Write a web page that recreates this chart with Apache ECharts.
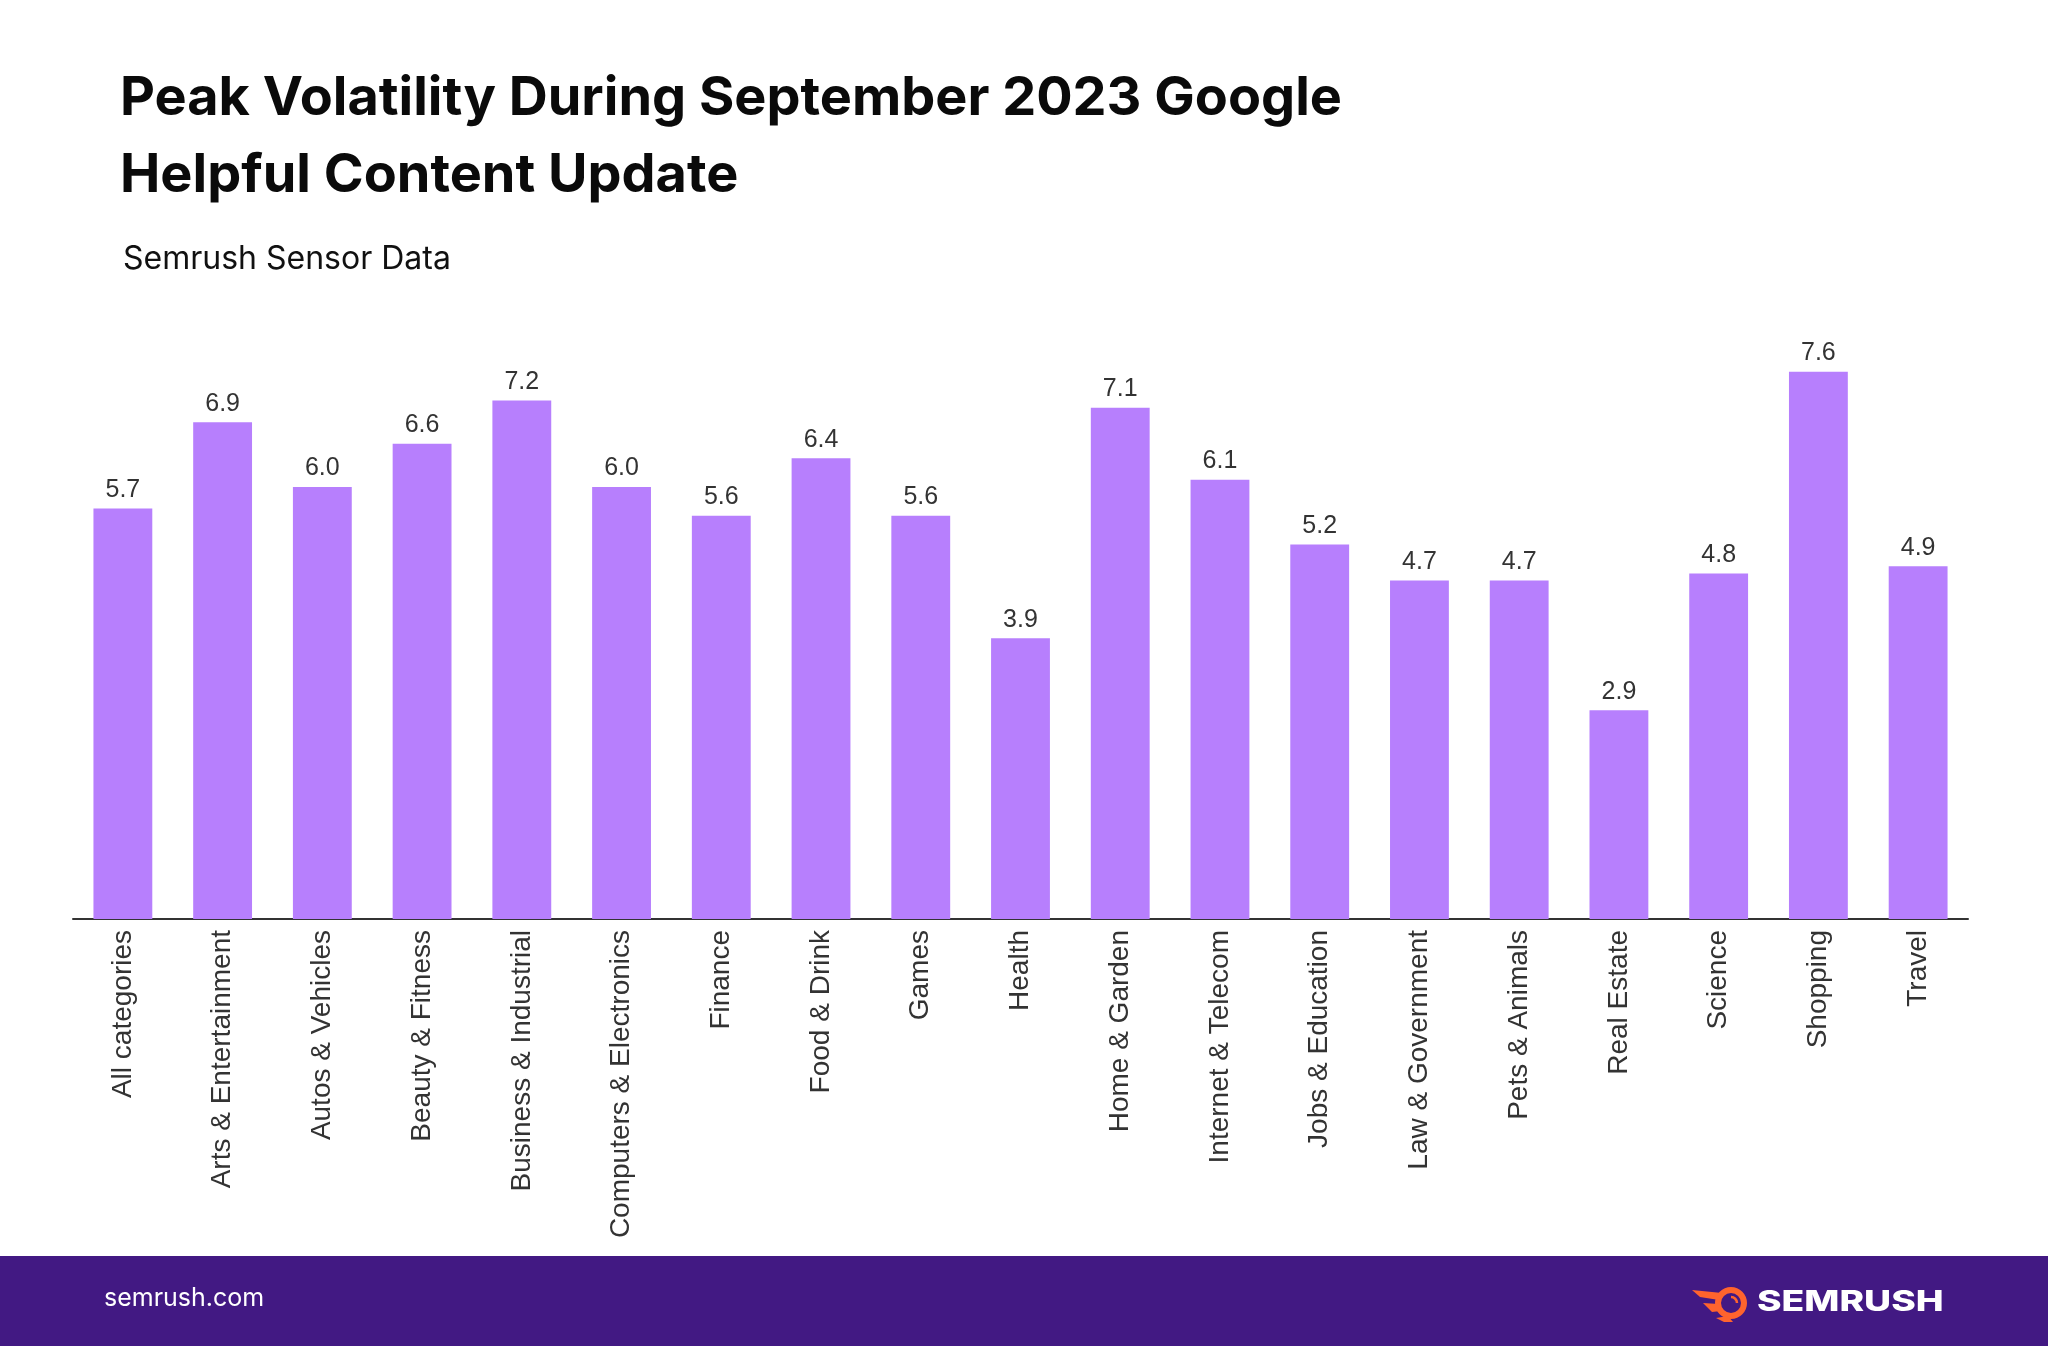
<!DOCTYPE html>
<html>
<head>
<meta charset="utf-8">
<script src="https://cdn.jsdelivr.net/npm/echarts@6/dist/echarts.min.js"></script>
<style>
html,body{margin:0;padding:0;background:#fff;}
#chart{width:2048px;height:1346px;}
</style>
</head>
<body>
<div id="chart"></div>
<script>
const categories = ["All categories","Arts & Entertainment","Autos & Vehicles","Beauty & Fitness","Business & Industrial","Computers & Electronics","Finance","Food & Drink","Games","Health","Home & Garden","Internet & Telecom","Jobs & Education","Law & Government","Pets & Animals","Real Estate","Science","Shopping","Travel"];
const volatility = [5.7,6.9,6.0,6.6,7.2,6.0,5.6,6.4,5.6,3.9,7.1,6.1,5.2,4.7,4.7,2.9,4.8,7.6,4.9];
const titleText = "Peak Volatility During September 2023 Google\nHelpful Content Update";
const subtitleText = "Semrush Sensor Data";
const footerLeft = "semrush.com";
const footerBrand = "SEMRUSH";

const chart = echarts.init(document.getElementById('chart'), null, {renderer:'canvas'});
chart.setOption({
  backgroundColor:'#ffffff',
  animation:false,
  title:[{
    text:titleText,
    left:115, top:55,
    textStyle:{fontFamily:'Inter', fontWeight:700, fontSize:54, lineHeight:77, color:'#0a0a0a'}
  },{
    text:subtitleText,
    left:118, top:238,
    textStyle:{fontFamily:'Inter', fontWeight:400, fontSize:32, color:'#111111'}
  }],
  grid:{left:73, right:80, top:199, bottom:427, containLabel:false},
  xAxis:{
    type:'category', data:categories,
    axisLine:{show:true, lineStyle:{color:'#333333', width:2}},
    axisTick:{show:false},
    axisLabel:{rotate:90, interval:0, margin:11, fontFamily:'Liberation Sans', fontSize:28, color:'#333333'}
  },
  yAxis:{type:'value', min:0, max:10, show:false, splitLine:{show:false}},
  series:[{
    type:'bar', data:volatility, barWidth:'59%',
    itemStyle:{color:'#B77FFD'},
    label:{show:true, position:'top', distance:6, fontFamily:'Liberation Sans', fontSize:25, color:'#333333',
      formatter:p=>p.value.toFixed(1)}
  }],
  graphic:[
    {type:'rect', shape:{x:0,y:1256,width:2048,height:90}, style:{fill:'#421983'}},
    {type:'text', left:104, top:1286, style:{text:footerLeft, fill:'#ffffff', font:'400 25px Inter'}},
    {type:'text', x:1757, y:1289, scaleX:1.33, originX:0, style:{text:footerBrand, fill:'#ffffff', font:'800 28px Inter'}},
    {type:'circle', shape:{cx:1731, cy:1303, r:13}, style:{fill:'none', stroke:'#FF642D', lineWidth:6}},
    {type:'polygon', shape:{points:[[1692,1290],[1722,1293],[1719,1300],[1700,1297]]}, style:{fill:'#FF642D'}},
    {type:'polygon', shape:{points:[[1703,1303],[1719,1304],[1721,1311],[1712,1312]]}, style:{fill:'#FF642D'}},
    {type:'polygon', shape:{points:[[1716,1318],[1728,1316],[1733,1322],[1724,1322]]}, style:{fill:'#FF642D'}},
    {type:'arc', shape:{cx:1731, cy:1303, r:6, startAngle:-Math.PI*0.5, endAngle:0}, style:{stroke:'#FF642D', lineWidth:2.5, fill:'none'}}
  ]
});
</script>
</body>
</html>
